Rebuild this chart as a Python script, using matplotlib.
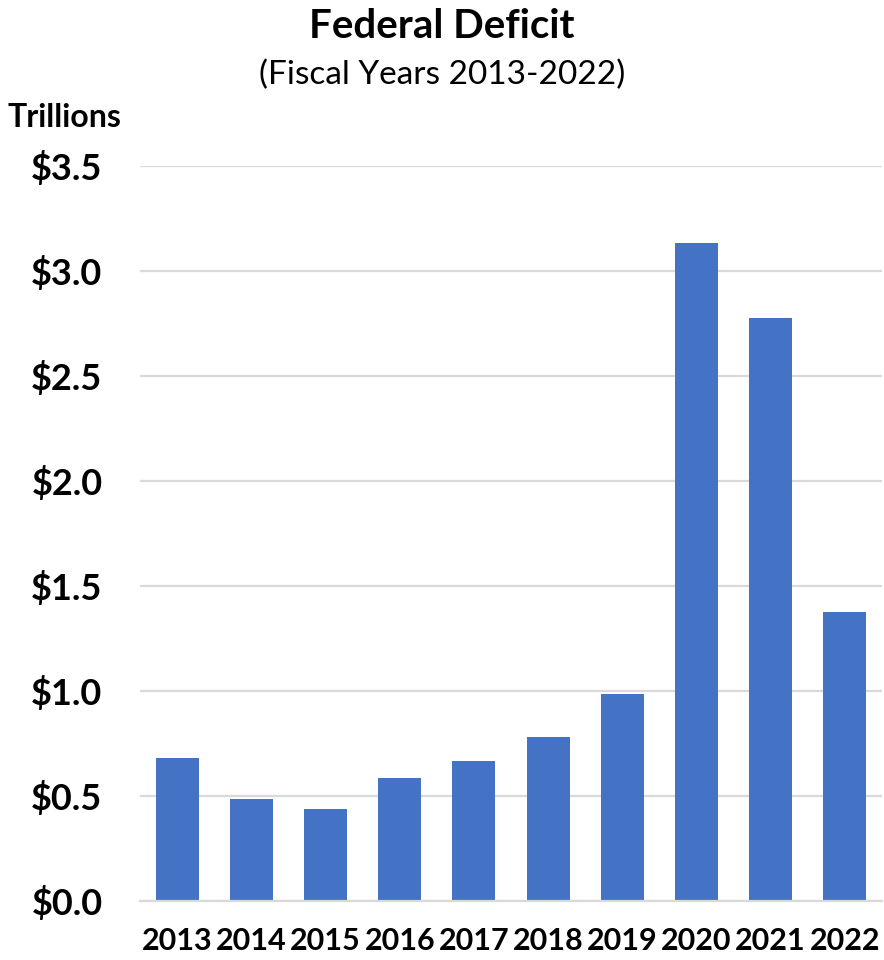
import matplotlib.pyplot as plt
import numpy as np

# Data
years = ["2013", "2014", "2015", "2016", "2017", "2018", "2019", "2020", "2021", "2022"]
deficit = [0.680, 0.485, 0.439, 0.585, 0.665, 0.779, 0.984, 3.132, 2.775, 1.375]  # trillions
yticks = [0.0, 0.5, 1.0, 1.5, 2.0, 2.5, 3.0, 3.5]

plt.rcParams["font.family"] = ["Lato", "DejaVu Sans"]

fig = plt.figure(figsize=(8.84, 9.6), dpi=100)
ax = fig.add_axes([0.1584, 0.0615, 0.8393, 0.7656])

x = np.arange(len(years))
ax.bar(x, deficit, width=0.58, color="#4472C4", zorder=3)

ax.set_xlim(-0.5, len(years) - 0.5)
ax.set_ylim(0, 3.5)
ax.set_yticks(yticks)
ax.set_yticklabels([f"${v:.1f}" for v in yticks], fontsize=26, fontweight="bold")
ax.set_xticks(x)
ax.set_xticklabels(years, fontsize=22, fontweight="bold")
ax.tick_params(axis="y", length=0, pad=27)
ax.tick_params(axis="x", length=0, pad=19)

ax.grid(axis="y", color="#D9D9D9", linewidth=1.6, zorder=0)
ax.set_axisbelow(True)
for side in ["top", "right", "left"]:
    ax.spines[side].set_visible(False)
ax.spines["bottom"].set_color("#D9D9D9")
ax.spines["bottom"].set_linewidth(1.6)
ax.spines["bottom"].set_zorder(4)

# Titles
fig.text(0.5, 0.972, "Federal Deficit", ha="center", va="center",
         fontsize=29, fontweight="bold")
fig.text(0.5, 0.922, "(Fiscal Years 2013-2022)", ha="center", va="center",
         fontsize=24)
fig.text(0.009, 0.878, "Trillions", ha="left", va="center",
         fontsize=23, fontweight="bold")

plt.savefig("out.png", dpi=100, facecolor="white")
